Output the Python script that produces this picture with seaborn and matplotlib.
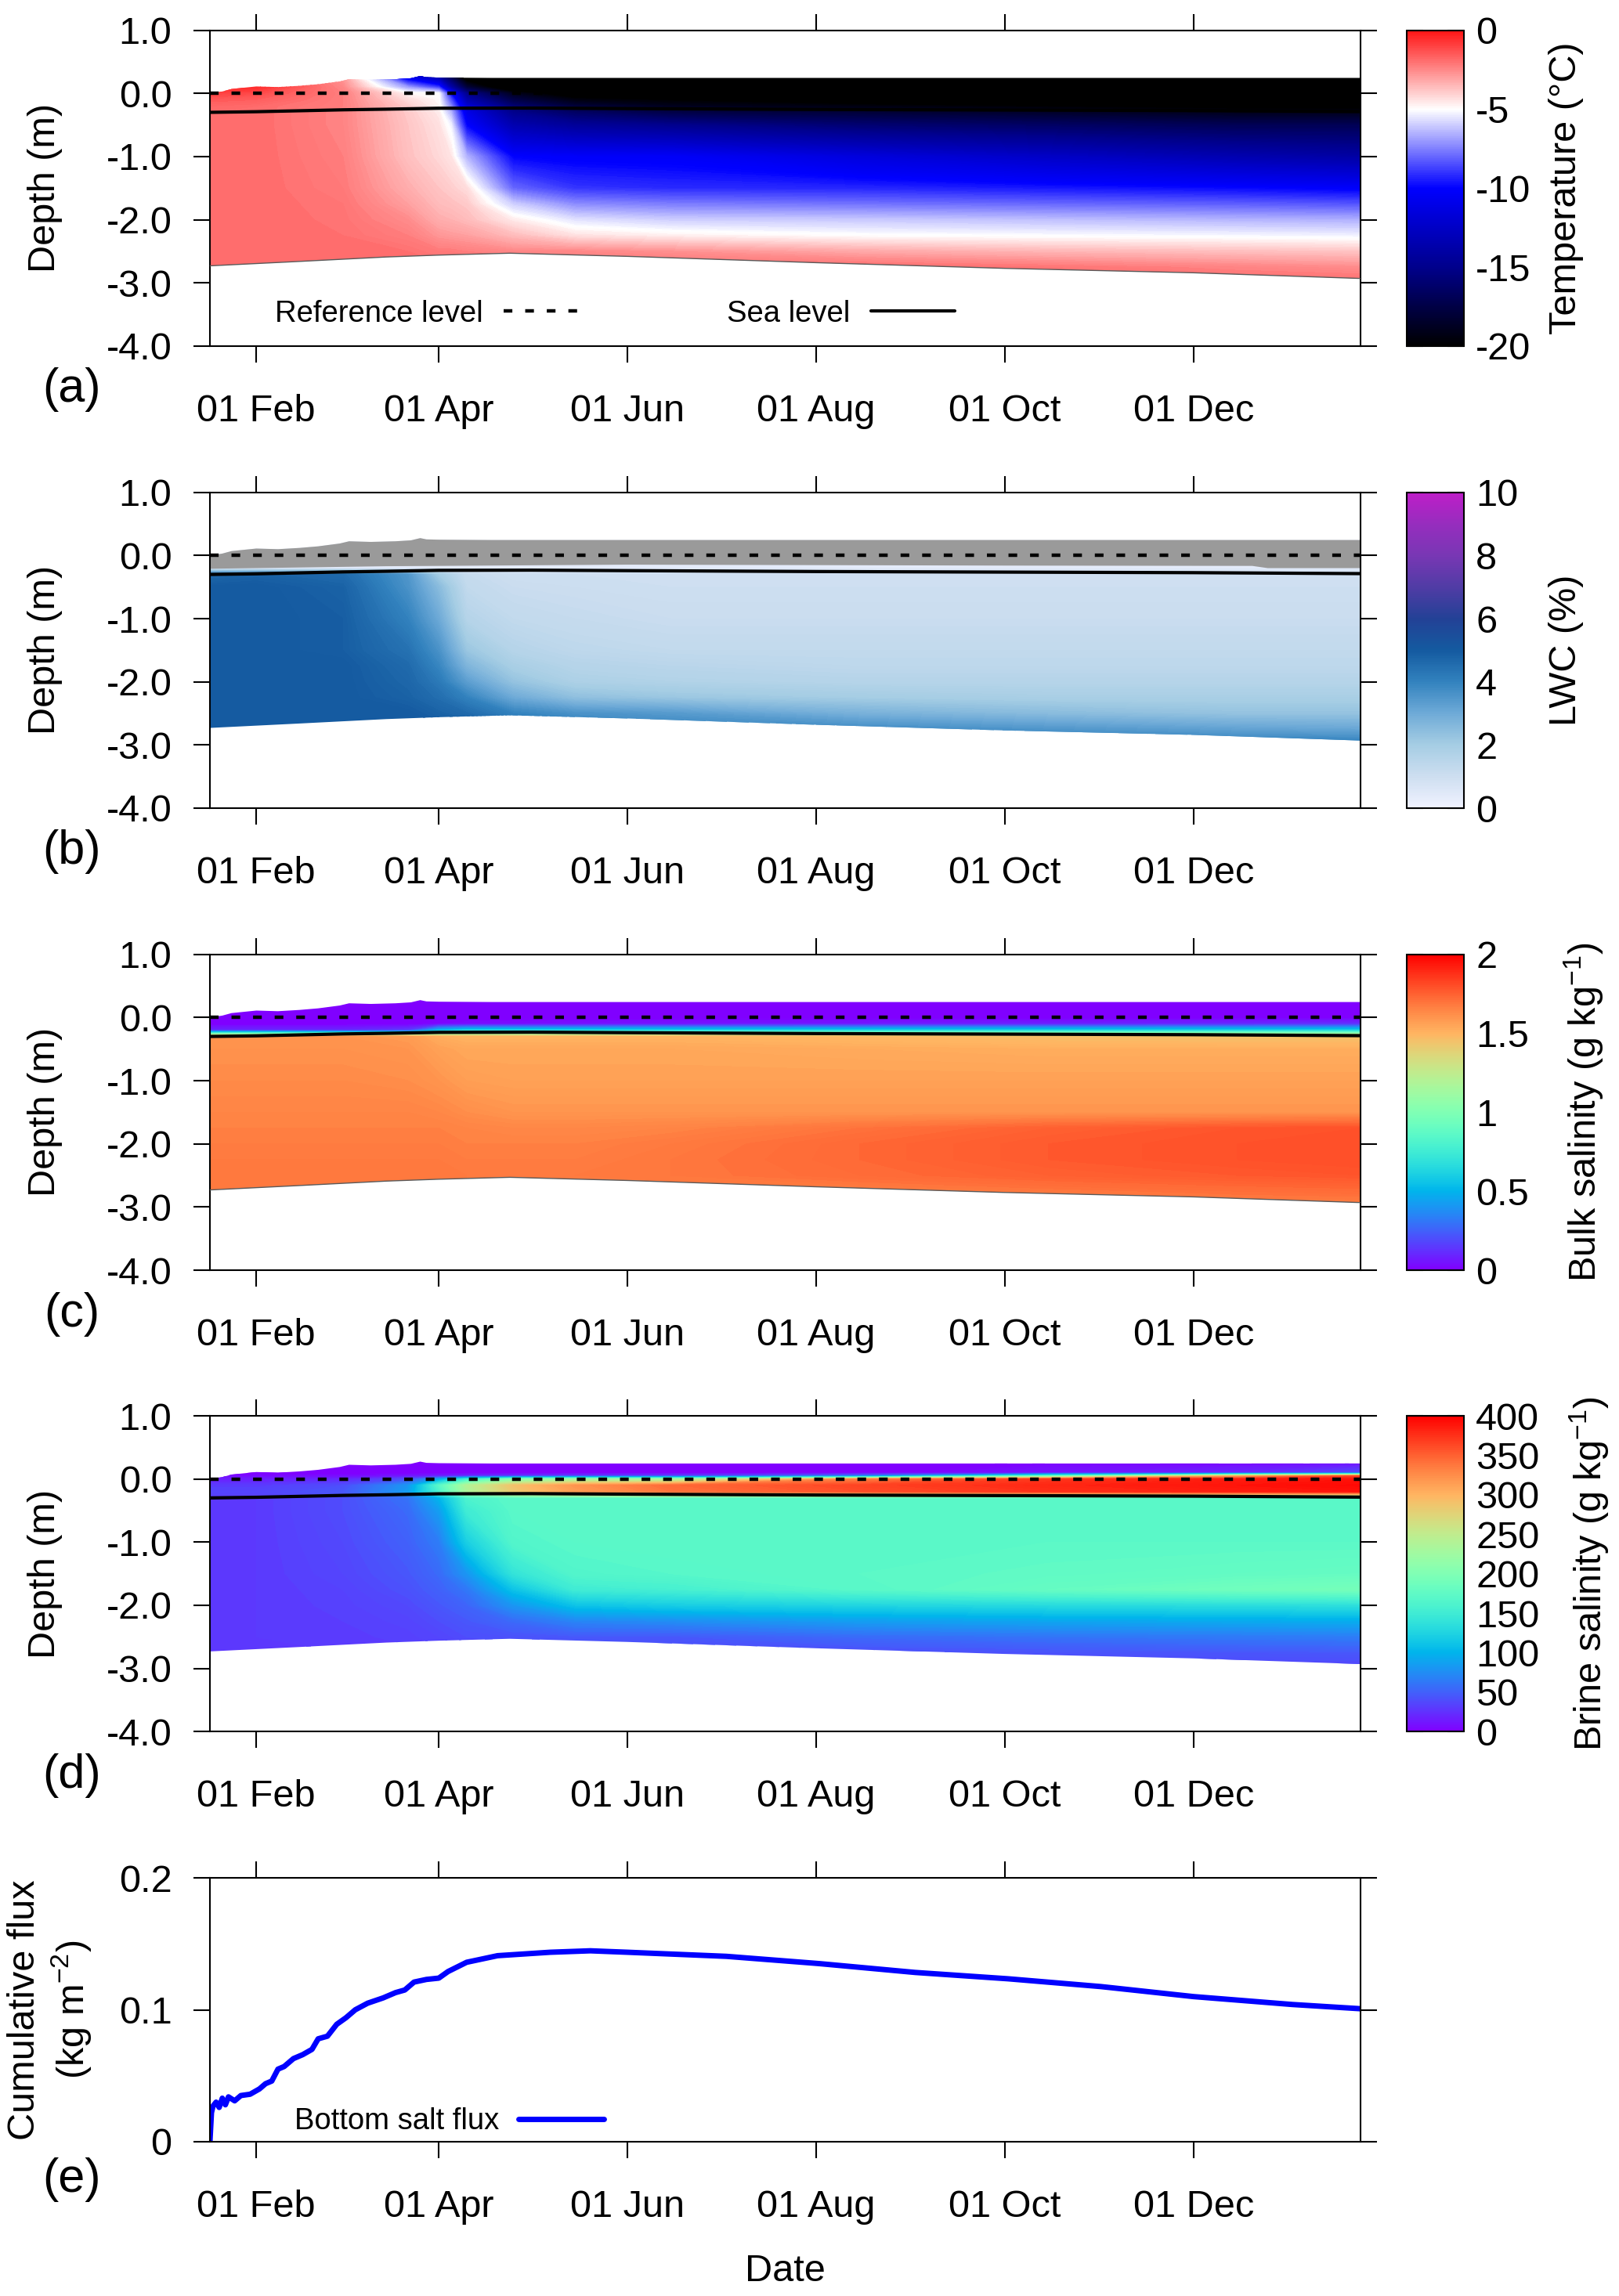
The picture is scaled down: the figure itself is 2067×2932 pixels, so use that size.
import numpy as np
import pandas as pd
import seaborn as sns
import matplotlib
matplotlib.use("Agg")
import matplotlib.pyplot as plt
import matplotlib.dates as mdates
from matplotlib.colors import LinearSegmentedColormap, Normalize
from matplotlib.cm import ScalarMappable
from matplotlib.patches import Polygon
from matplotlib.lines import Line2D
from matplotlib.ticker import FormatStrFormatter

# ---- boundaries of the ice column (m) ----
top_dates = ["2019-01-17", "2019-01-21", "2019-01-24", "2019-02-01", "2019-02-08", "2019-02-15",
             "2019-02-21", "2019-02-28", "2019-03-03", "2019-03-10", "2019-03-18", "2019-03-23",
             "2019-03-26", "2019-03-28", "2019-04-01", "2019-04-18", "2020-01-24"]
top_depth = [0.0, 0.03, 0.07, 0.11, 0.10, 0.12, 0.145, 0.19, 0.225, 0.215, 0.225, 0.24,
             0.275, 0.255, 0.25, 0.245, 0.245]

bottom_dates = ["2019-01-17", "2019-02-15", "2019-03-15", "2019-04-01", "2019-04-24", "2019-06-01",
                "2019-08-01", "2019-10-01", "2019-12-01", "2020-01-24"]
bottom_depth = [-2.73, -2.66, -2.59, -2.56, -2.53, -2.58, -2.68, -2.77, -2.84, -2.93]

sea_dates = ["2019-01-17", "2019-02-01", "2019-02-15", "2019-03-01", "2019-03-15", "2019-04-01",
             "2019-05-01", "2019-06-01", "2019-08-01", "2019-10-01", "2019-12-01", "2020-01-24"]
sea_depth = [-0.30, -0.29, -0.275, -0.26, -0.25, -0.235, -0.232, -0.24, -0.254, -0.263, -0.272, -0.287]

snow_dates = ["2019-01-17", "2019-02-15", "2019-03-01", "2019-03-15", "2019-04-01", "2019-06-01",
              "2019-10-01", "2019-12-20", "2019-12-25", "2020-01-24"]
snow_base = [-0.21, -0.19, -0.18, -0.17, -0.165, -0.145, -0.16, -0.165, -0.2, -0.2]

# ---- gridded fields: rows = depth levels, columns = dates ----
field_dates = ["2019-01-17", "2019-02-01", "2019-03-01", "2019-03-22", "2019-04-01", "2019-04-10",
               "2019-04-25", "2019-05-15", "2019-06-15", "2019-08-15", "2019-10-15", "2019-12-15",
               "2020-01-24"]
depth_levels = [0.3, 0.1, 0.0, -0.1, -0.2, -0.3, -0.5, -1.0, -1.5, -1.75, -2.0, -2.25, -2.5, -2.75, -3.0]

temp_dates = ["2019-01-17", "2019-02-01", "2019-03-01", "2019-03-22", "2019-04-01", "2019-04-05",
              "2019-04-10", "2019-04-25", "2019-05-15", "2019-06-15", "2019-08-15", "2019-10-15",
              "2019-12-15", "2020-01-24"]
temp_c = [
    [-0.5, -0.5, -3.0, -12.0, -15.0, -18.0, -22.0, -25.0, -26.0, -26.0, -26.0, -26.0, -26.0, -26.0],
    [-0.5, -0.5, -2.5, -7.0, -9.0, -14.0, -18.0, -22.0, -24.0, -24.0, -25.0, -25.0, -25.0, -25.0],
    [-1.0, -1.2, -2.3, -4.8, -5.0, -10.0, -15.0, -19.0, -21.0, -21.5, -22.0, -23.0, -23.0, -23.0],
    [-1.5, -1.6, -2.3, -4.3, -4.9, -8.5, -13.5, -17.5, -19.5, -20.0, -21.0, -21.5, -22.0, -22.0],
    [-1.8, -1.9, -2.3, -4.0, -4.8, -7.5, -12.0, -16.0, -18.0, -19.0, -19.5, -20.0, -20.5, -20.5],
    [-1.9, -1.9, -2.4, -3.9, -4.6, -6.5, -11.0, -15.0, -16.5, -17.5, -18.0, -18.5, -19.0, -19.0],
    [-1.9, -1.9, -2.4, -3.8, -4.4, -5.3, -10.0, -13.5, -14.5, -15.0, -16.0, -16.5, -17.0, -17.0],
    [-1.9, -1.9, -2.3, -3.7, -4.2, -4.5, -6.5, -10.0, -10.2, -10.3, -11.5, -12.5, -13.5, -14.0],
    [-1.9, -1.9, -2.2, -3.3, -3.8, -4.0, -4.3, -8.0, -9.0, -9.2, -9.3, -9.6, -9.9, -10.2],
    [-1.9, -1.9, -2.1, -3.0, -3.6, -3.7, -3.9, -6.0, -7.3, -7.6, -7.8, -8.0, -8.2, -8.4],
    [-1.9, -1.9, -2.05, -2.6, -3.3, -3.4, -3.6, -4.6, -5.6, -6.0, -6.1, -6.3, -6.5, -6.6],
    [-1.9, -1.9, -2.0, -2.3, -2.8, -2.9, -3.0, -3.6, -4.4, -4.7, -5.0, -5.1, -5.2, -5.3],
    [-1.9, -1.9, -1.95, -2.0, -2.2, -2.2, -2.3, -2.5, -2.5, -2.7, -3.2, -3.5, -3.7, -3.8],
    [-1.9, -1.9, -1.9, -1.9, -1.9, -1.9, -1.9, -1.9, -1.9, -1.9, -1.9, -2.1, -2.4, -2.6],
    [-1.9, -1.9, -1.9, -1.9, -1.9, -1.9, -1.9, -1.9, -1.9, -1.9, -1.9, -1.9, -1.9, -1.9],
]

lwc_pct = [
    [0.4] * 13,
    [0.4] * 13,
    [0.4] * 13,
    [0.4] * 13,
    [0.4] * 13,
    [4.6, 4.8, 4.6, 3.5, 2.0, 1.2, 1.0, 1.0, 1.0, 1.0, 1.0, 1.0, 1.0],
    [5.0, 5.0, 4.8, 3.6, 2.5, 1.3, 1.1, 1.05, 1.0, 1.0, 1.0, 1.0, 1.0],
    [5.0, 5.0, 4.9, 4.0, 3.0, 1.6, 1.3, 1.2, 1.1, 1.1, 1.1, 1.1, 1.1],
    [5.0, 5.0, 4.9, 4.4, 3.6, 2.2, 1.6, 1.4, 1.3, 1.3, 1.3, 1.3, 1.3],
    [5.0, 5.0, 5.0, 4.6, 3.9, 2.7, 1.9, 1.6, 1.5, 1.4, 1.4, 1.4, 1.4],
    [5.0, 5.0, 5.0, 4.7, 4.2, 3.3, 2.3, 1.8, 1.7, 1.6, 1.6, 1.6, 1.6],
    [5.0, 5.0, 5.0, 4.8, 4.5, 4.0, 3.0, 2.4, 2.2, 2.0, 1.9, 1.9, 1.9],
    [5.0, 5.0, 5.0, 5.0, 4.8, 4.6, 4.0, 3.6, 3.4, 2.8, 2.5, 2.3, 2.3],
    [5.0, 5.0, 5.0, 5.0, 5.0, 5.0, 4.5, 4.2, 4.0, 3.8, 3.5, 3.2, 3.1],
    [5.0, 5.0, 5.0, 5.0, 5.0, 5.0, 5.0, 4.6, 4.4, 4.2, 4.2, 4.2, 4.2],
]

bulk_sal = [
    [0.0] * 13,
    [0.0] * 13,
    [0.0] * 13,
    [0.0, 0.0, 0.0, 0.0, 0.02, 0.03, 0.03, 0.04, 0.05, 0.06, 0.08, 0.1, 0.12],
    [0.1, 0.1, 0.1, 0.15, 0.5, 0.6, 0.6, 0.6, 0.6, 0.6, 0.6, 0.6, 0.6],
    [1.6, 1.6, 1.6, 1.58, 1.52, 1.5, 1.5, 1.5, 1.5, 1.48, 1.46, 1.45, 1.45],
    [1.61, 1.61, 1.61, 1.6, 1.56, 1.54, 1.54, 1.54, 1.54, 1.53, 1.52, 1.52, 1.52],
    [1.63, 1.63, 1.63, 1.62, 1.6, 1.57, 1.56, 1.56, 1.56, 1.56, 1.56, 1.56, 1.56],
    [1.65, 1.65, 1.65, 1.65, 1.64, 1.62, 1.6, 1.6, 1.6, 1.6, 1.6, 1.6, 1.6],
    [1.66, 1.66, 1.66, 1.66, 1.66, 1.65, 1.64, 1.64, 1.65, 1.7, 1.75, 1.78, 1.79],
    [1.67, 1.67, 1.67, 1.67, 1.67, 1.66, 1.66, 1.66, 1.68, 1.73, 1.77, 1.79, 1.8],
    [1.68, 1.68, 1.68, 1.68, 1.68, 1.67, 1.67, 1.67, 1.69, 1.73, 1.77, 1.79, 1.8],
    [1.69, 1.69, 1.69, 1.69, 1.69, 1.68, 1.68, 1.68, 1.69, 1.72, 1.75, 1.77, 1.78],
    [1.69, 1.69, 1.69, 1.69, 1.69, 1.68, 1.67, 1.66, 1.66, 1.67, 1.69, 1.71, 1.72],
    [1.66] * 13,
]

brine_levels = [0.3, 0.1, 0.05, 0.0, -0.1, -0.2, -0.3, -0.5, -1.0, -1.5, -1.75, -2.0, -2.25, -2.5,
                -2.75, -3.0]
brine_sal = [
    [0] * 13,
    [0, 0, 0, 0, 0, 0, 0, 0, 0, 0, 10, 20, 40],
    [5, 5, 5, 10, 15, 20, 25, 30, 30, 60, 170, 300, 360],
    [15, 15, 20, 40, 90, 150, 200, 220, 220, 330, 370, 385, 390],
    [30, 30, 40, 80, 170, 240, 290, 320, 345, 365, 380, 390, 395],
    [35, 35, 45, 85, 160, 235, 285, 315, 340, 360, 375, 385, 390],
    [30, 30, 40, 60, 100, 160, 172, 172, 172, 172, 172, 172, 172],
    [30, 30, 40, 55, 85, 150, 170, 172, 172, 172, 172, 172, 172],
    [30, 30, 38, 50, 65, 120, 165, 170, 172, 172, 172, 172, 172],
    [30, 30, 36, 45, 55, 80, 140, 165, 168, 172, 175, 178, 180],
    [30, 30, 34, 42, 50, 62, 110, 150, 155, 170, 180, 188, 192],
    [30, 30, 33, 38, 45, 52, 80, 110, 118, 125, 130, 133, 135],
    [30, 30, 32, 35, 40, 45, 55, 70, 75, 85, 90, 93, 95],
    [30, 30, 31, 33, 36, 40, 42, 45, 45, 55, 60, 63, 65],
    [30, 30, 30, 31, 33, 35, 36, 38, 38, 40, 42, 44, 45],
    [30, 30, 30, 30, 30, 30, 30, 30, 30, 32, 34, 35, 35],
]

# ---- cumulative bottom salt flux (kg m-2) ----
flux_dates = ["2019-01-17 00:00", "2019-01-17 12:00", "2019-01-18", "2019-01-19", "2019-01-20",
              "2019-01-21", "2019-01-22", "2019-01-23", "2019-01-25", "2019-01-27", "2019-01-30",
              "2019-02-02", "2019-02-04", "2019-02-06", "2019-02-08", "2019-02-10", "2019-02-13",
              "2019-02-16", "2019-02-19", "2019-02-21", "2019-02-24", "2019-02-27", "2019-03-02",
              "2019-03-05", "2019-03-09", "2019-03-14", "2019-03-18", "2019-03-21", "2019-03-24",
              "2019-03-28", "2019-04-01", "2019-04-04", "2019-04-10", "2019-04-20", "2019-05-07",
              "2019-05-20", "2019-06-01", "2019-07-03", "2019-08-02", "2019-09-02", "2019-10-02",
              "2019-11-01", "2019-12-01", "2020-01-02", "2020-01-24"]
flux_vals = [0.0, 0.022, 0.027, 0.030, 0.026, 0.033, 0.028, 0.034, 0.031, 0.035, 0.036,
             0.040, 0.044, 0.046, 0.055, 0.057, 0.063, 0.066, 0.070, 0.078, 0.080, 0.089, 0.094,
             0.100, 0.105, 0.109, 0.113, 0.115, 0.121, 0.123, 0.124, 0.129, 0.136, 0.141, 0.1436,
             0.1447, 0.1436, 0.1405, 0.135, 0.1283, 0.1235, 0.1176, 0.110, 0.104, 0.1008]

x_range = ["2019-01-17", "2020-01-24"]


def dnum(seq):
    return mdates.date2num(pd.to_datetime(seq, format="ISO8601").to_pydatetime())


sns.set_theme(style="ticks", rc={"text.color": "black", "axes.labelcolor": "black",
                                 "xtick.color": "black", "ytick.color": "black",
                                 "axes.edgecolor": "black"})
plt.rcParams["font.family"] = ["Liberation Sans", "DejaVu Sans"]
plt.rcParams["axes.unicode_minus"] = False
plt.rcParams["mathtext.default"] = "regular"

cmap_temp = LinearSegmentedColormap.from_list(
    "temp", [(0.0, "black"), (0.25, (0, 0, 0.55)), (0.5, "blue"), (0.75, "white"), (1.0, (1, 0.08, 0.08))])
cmap_lwc = LinearSegmentedColormap.from_list(
    "lwc", [(240/255, 242/255, 1.0), (205/255, 222/255, 240/255), (165/255, 205/255, 228/255),
            (110/255, 170/255, 215/255), (50/255, 130/255, 190/255), (20/255, 90/255, 160/255),
            (35/255, 65/255, 150/255), (80/255, 60/255, 165/255), (120/255, 55/255, 180/255),
            (150/255, 45/255, 190/255), (190/255, 30/255, 200/255)])
cmap_rain = plt.get_cmap("rainbow")

W, H = 2067, 2932
fig = plt.figure(figsize=(W / 100, H / 100), dpi=100)


def px_axes(left, top, right, bottom):
    return fig.add_axes([left / W, 1 - bottom / H, (right - left) / W, (bottom - top) / H])


FS = 35
x_lim = dnum(x_range)
top_x, bot_x = dnum(top_dates), dnum(bottom_dates)
sea_x, snow_x = dnum(sea_dates), dnum(snow_dates)
ref_style = (0, (2.5, 3.7))


def style_axes(ax):
    ax.set_xlim(x_lim)
    ax.xaxis.set_major_locator(mdates.MonthLocator(bymonth=[2, 4, 6, 8, 10, 12], bymonthday=1))
    ax.xaxis.set_major_formatter(mdates.DateFormatter("%d %b"))
    ax.minorticks_off()
    ax.tick_params(which="major", direction="out", length=15, width=1.5,
                   top=True, right=True, labelsize=FS)
    ax.tick_params(axis="x", pad=29)
    ax.tick_params(axis="y", pad=20)
    for sp in ax.spines.values():
        sp.set_linewidth(1.5)
        sp.set_color("black")


panels = [
    (temp_dates, depth_levels, temp_c, cmap_temp, -20, 0, [0, -5, -10, -15, -20],
     ["0", "-5", "-10", "-15", "-20"], "Temperature (°C)", 2.48),
    (field_dates, depth_levels, lwc_pct, cmap_lwc, 0, 10, [0, 2, 4, 6, 8, 10],
     ["0", "2", "4", "6", "8", "10"], "LWC (%)", 2.48),
    (field_dates, depth_levels, bulk_sal, cmap_rain, 0, 2, [0, 0.5, 1, 1.5, 2],
     ["0", "0.5", "1", "1.5", "2"], "Bulk salinity (g kg$^{-1}$)", 2.72),
    (field_dates, brine_levels, brine_sal, cmap_rain, 0, 400, list(range(0, 401, 50)),
     [str(v) for v in range(0, 401, 50)], "Brine salinity (g kg$^{-1}$)", 2.82),
]
panel_tops = [38.6, 628.7, 1218.7, 1808.0]
letters = ["(a)", "(b)", "(c)", "(d)"]

for i, (fdates, flevels, field, cmap, vmin, vmax, cticks, clabels, clabel, lx) in enumerate(panels):
    top = panel_tops[i]
    ax = px_axes(268, top, 1737, top + 403.3)
    X, Y = np.meshgrid(dnum(fdates), flevels)
    cs = ax.contourf(X, Y, np.array(field, dtype=float), levels=np.linspace(vmin, vmax, 201),
                     cmap=cmap, extend="both", antialiased=False)
    outline = Polygon(np.column_stack([np.r_[top_x, bot_x[::-1]], np.r_[top_depth, bottom_depth[::-1]]]),
                      closed=True, transform=ax.transData, fc="none", ec="none")
    ax.add_patch(outline)
    cs.set_clip_path(outline)

    if i == 1:
        snow = Polygon(np.column_stack([np.r_[top_x, snow_x[::-1]], np.r_[top_depth, snow_base[::-1]]]),
                       closed=True, fc="#9a9a9a", ec="none", zorder=2)
        ax.add_patch(snow)
    if i in (0, 2):
        ax.plot(bot_x, bottom_depth, color="0.35", lw=1.0, zorder=3)

    ax.plot(sea_x, sea_depth, color="black", lw=3.0, zorder=4)
    ax.axhline(0.0, color="black", lw=3.2, ls=ref_style, zorder=4)

    ax.set_ylim(-4, 1)
    ax.set_yticks([-4, -3, -2, -1, 0, 1])
    ax.yaxis.set_major_formatter(FormatStrFormatter("%.1f"))
    style_axes(ax)
    ax.set_ylabel("Depth (m)", fontsize=FS)
    ax.yaxis.set_label_coords((80 - 268) / 1469, 0.5)

    if i == 0:
        handles = [Line2D([], [], color="black", lw=3.2, ls=ref_style),
                   Line2D([], [], color="black", lw=3.0)]
        ax.legend(handles, ["Reference level", "Sea level"], ncol=2, loc="center left",
                  bbox_to_anchor=(0.0565, 0.102), frameon=False, markerfirst=False,
                  fontsize=27.5, handlelength=2.8, handletextpad=0.7, columnspacing=4.65,
                  borderpad=0, borderaxespad=0)

    cax = px_axes(1796, top, 1869, top + 403.3)
    cb = fig.colorbar(ScalarMappable(norm=Normalize(vmin, vmax), cmap=cmap), cax=cax)
    cb.set_ticks(cticks)
    cb.set_ticklabels(clabels)
    cb.outline.set_linewidth(1.5)
    cax.tick_params(direction="in", length=15, width=1.5, left=True, right=True,
                    labelsize=FS, pad=11)
    cb.set_label(clabel, fontsize=FS)
    cax.yaxis.set_label_coords(lx, 0.5)

    fig.text(92 / W, 1 - (498 + 590 * i) / H, letters[i], ha="center", va="center", fontsize=44)

# ---- panel (e) ----
axe = px_axes(268, 2398, 1737, 2735)
sns.lineplot(x=dnum(flux_dates), y=flux_vals, ax=axe, color="blue", lw=5,
             label="Bottom salt flux", sort=False)
axe.set_ylim(0, 0.2)
axe.set_yticks([0, 0.1, 0.2])
axe.set_yticklabels(["0", "0.1", "0.2"])
style_axes(axe)
axe.set_ylabel("Cumulative flux\n(kg m$^{-2}$)", fontsize=FS)
axe.yaxis.set_label_coords((119 - 268) / 1469, 0.5)
axe.set_xlabel("Date", fontsize=FS)
axe.xaxis.set_label_coords(0.5, -0.425)
axe.legend(loc="center left", bbox_to_anchor=(0.0735, 0.077), frameon=False, markerfirst=False,
           fontsize=27.5, handlelength=2.85, handletextpad=0.65, borderpad=0, borderaxespad=0)
fig.text(92 / W, 1 - 2783 / H, "(e)", ha="center", va="center", fontsize=44)

fig.savefig("out.png", dpi=100)
